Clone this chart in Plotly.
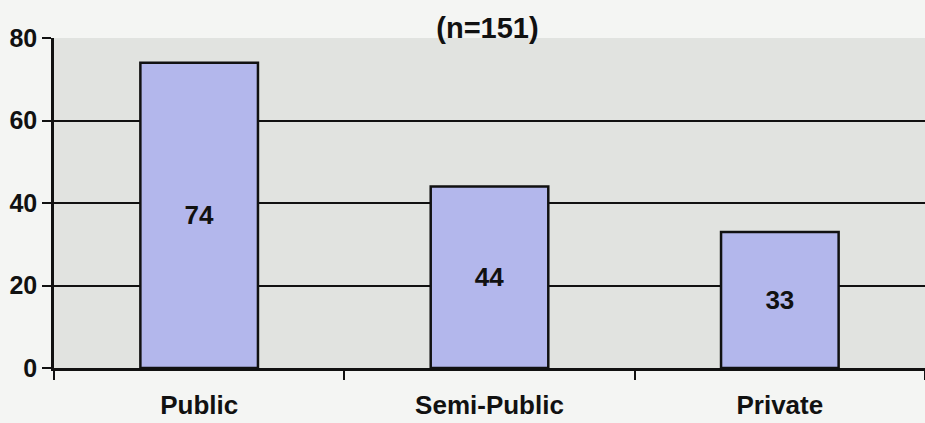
import plotly.graph_objects as go

# Survey respondents by sector
categories = ["Public", "Semi-Public", "Private"]
counts = [74, 44, 33]
y_ticks = [0, 20, 40, 60, 80]
title_text = "(n=151)"

FONT = "Liberation Sans, Arial, sans-serif"
INK = "#111111"

fig = go.Figure(
    go.Bar(
        x=categories,
        y=counts,
        width=0.405,
        marker=dict(color="#b3b7ec", line=dict(color=INK, width=2.5)),
        text=[str(v) for v in counts],
        textposition="inside",
        insidetextanchor="middle",
        textfont=dict(family=FONT, size=26, color=INK, weight="bold"),
        textangle=0,
    )
)

fig.update_layout(
    width=925,
    height=423,
    margin=dict(l=54, r=0, t=38, b=55),
    paper_bgcolor="#f4f5f3",
    plot_bgcolor="#e1e3e0",
    showlegend=False,
    title=dict(
        text="<b>" + title_text + "</b>",
        x=0.527,
        xanchor="center",
        y=0.935,
        yanchor="middle",
        font=dict(family=FONT, size=29, color=INK),
    ),
    font=dict(family=FONT, color=INK),
)

fig.update_xaxes(
    showline=True,
    linecolor=INK,
    linewidth=2.5,
    ticks="outside",
    tickson="boundaries",
    ticklen=9,
    tickwidth=2,
    tickcolor=INK,
    ticklabelstandoff=12,
    tickfont=dict(family=FONT, size=26, color=INK, weight="bold"),
    showgrid=False,
    range=[-0.5, 2.5],
)

fig.update_yaxes(
    range=[0, 80],
    tickvals=y_ticks,
    showline=True,
    linecolor=INK,
    linewidth=2.5,
    ticks="outside",
    ticklen=9,
    tickwidth=2,
    tickcolor=INK,
    ticklabelstandoff=0,
    tickfont=dict(family=FONT, size=25, color=INK, weight="bold"),
    showgrid=True,
    gridcolor=INK,
    gridwidth=2,
    zeroline=False,
)

fig.write_html("out.html")
